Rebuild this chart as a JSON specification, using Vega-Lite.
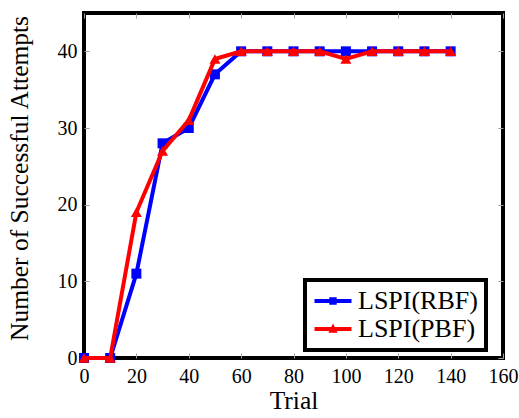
{
  "$schema": "https://vega.github.io/schema/vega-lite/v6.json",
  "width": 419,
  "height": 345,
  "autosize": {"type": "none"},
  "padding": {"left": 84, "top": 13, "right": 16, "bottom": 60},
  "background": "white",
  "config": {
    "font": "Liberation Serif",
    "view": {"stroke": "black", "strokeWidth": 4},
    "axis": {
      "domain": false, "grid": false,
      "tickColor": "#a0a0a0", "tickSize": -5, "tickWidth": 1,
      "labelFont": "Liberation Serif", "labelFontSize": 20, "labelColor": "black",
      "titleFont": "Liberation Serif", "titleFontSize": 25.5, "titleColor": "black", "titleFontWeight": "normal",
      "labelFlush": false, "labelOverlap": false
    }
  },
  "data": {
    "values": [
      {"trial": 0, "value": 0, "method": "LSPI(RBF)"},
      {"trial": 10, "value": 0, "method": "LSPI(RBF)"},
      {"trial": 20, "value": 11, "method": "LSPI(RBF)"},
      {"trial": 30, "value": 28, "method": "LSPI(RBF)"},
      {"trial": 40, "value": 30, "method": "LSPI(RBF)"},
      {"trial": 50, "value": 37, "method": "LSPI(RBF)"},
      {"trial": 60, "value": 40, "method": "LSPI(RBF)"},
      {"trial": 70, "value": 40, "method": "LSPI(RBF)"},
      {"trial": 80, "value": 40, "method": "LSPI(RBF)"},
      {"trial": 90, "value": 40, "method": "LSPI(RBF)"},
      {"trial": 100, "value": 40, "method": "LSPI(RBF)"},
      {"trial": 110, "value": 40, "method": "LSPI(RBF)"},
      {"trial": 120, "value": 40, "method": "LSPI(RBF)"},
      {"trial": 130, "value": 40, "method": "LSPI(RBF)"},
      {"trial": 140, "value": 40, "method": "LSPI(RBF)"},
      {"trial": 0, "value": 0, "method": "LSPI(PBF)"},
      {"trial": 10, "value": 0, "method": "LSPI(PBF)"},
      {"trial": 20, "value": 19, "method": "LSPI(PBF)"},
      {"trial": 30, "value": 27, "method": "LSPI(PBF)"},
      {"trial": 40, "value": 31, "method": "LSPI(PBF)"},
      {"trial": 50, "value": 39, "method": "LSPI(PBF)"},
      {"trial": 60, "value": 40, "method": "LSPI(PBF)"},
      {"trial": 70, "value": 40, "method": "LSPI(PBF)"},
      {"trial": 80, "value": 40, "method": "LSPI(PBF)"},
      {"trial": 90, "value": 40, "method": "LSPI(PBF)"},
      {"trial": 100, "value": 39, "method": "LSPI(PBF)"},
      {"trial": 110, "value": 40, "method": "LSPI(PBF)"},
      {"trial": 120, "value": 40, "method": "LSPI(PBF)"},
      {"trial": 130, "value": 40, "method": "LSPI(PBF)"},
      {"trial": 140, "value": 40, "method": "LSPI(PBF)"}
    ]
  },
  "layer": [
    {
      "transform": [{"filter": "datum.method === 'LSPI(RBF)'"}],
      "mark": {"type": "line", "strokeWidth": 4},
      "encoding": {
        "x": {"field": "trial", "type": "quantitative", "scale": {"domain": [0, 160], "nice": false, "zero": false},
              "axis": {"orient": "bottom", "title": "Trial", "values": [0, 20, 40, 60, 80, 100, 120, 140, 160], "labelPadding": 13, "titlePadding": 2}},
        "y": {"field": "value", "type": "quantitative", "scale": {"domain": [0, 45], "nice": false},
              "axis": {"orient": "left", "title": "Number of Successful Attempts", "values": [0, 10, 20, 30, 40], "labelPadding": 12, "titlePadding": 25, "titleY": 165}},
        "color": {"field": "method", "type": "nominal",
                  "scale": {"domain": ["LSPI(RBF)", "LSPI(PBF)"], "range": ["#0000ff", "#ff0000"]},
                  "legend": {
                    "title": null, "orient": "none", "legendX": 221, "legendY": 267,
                    "strokeColor": "black", "fillColor": "white", "padding": 8,
                    "labelFont": "Liberation Serif", "labelFontSize": 26, "labelColor": "black",
                    "symbolSize": 608, "rowPadding": 2, "labelOffset": 12, "symbolOffset": 7,
                    "encode": {
                      "legend": {"update": {"stroke": {"value": "black"}, "strokeWidth": {"value": 4}}},
                      "symbols": {"update": {
                        "shape": {"signal": "datum.value === 'LSPI(RBF)' ? 'M-1.5,-0.16H1.5V0.16H-1.5Z M-0.3,-0.3H0.3V0.3H-0.3Z' : 'M-1.5,-0.16H1.5V0.16H-1.5Z M0,-0.45L0.38,0.3H-0.38Z'"},
                        "fill": {"signal": "datum.value === 'LSPI(RBF)' ? '#0000ff' : '#ff0000'"},
                        "stroke": {"value": "transparent"},
                        "strokeWidth": {"value": 0},
                        "opacity": {"value": 1}
                      }}
                    }
                  }}
      }
    },
    {
      "transform": [{"filter": "datum.method === 'LSPI(RBF)'"}],
      "mark": {"type": "point", "shape": "square", "filled": true, "size": 100, "opacity": 1},
      "encoding": {
        "x": {"field": "trial", "type": "quantitative",
              "axis": {"orient": "top", "title": null, "labels": false, "values": [0, 20, 40, 60, 80, 100, 120, 140, 160]}},
        "y": {"field": "value", "type": "quantitative",
              "axis": {"orient": "right", "title": null, "labels": false, "values": [0, 10, 20, 30, 40]}},
        "color": {"field": "method", "type": "nominal"}
      }
    },
    {
      "transform": [{"filter": "datum.method === 'LSPI(PBF)'"}],
      "mark": {"type": "line", "strokeWidth": 4},
      "encoding": {
        "x": {"field": "trial", "type": "quantitative", "axis": null},
        "y": {"field": "value", "type": "quantitative", "axis": null},
        "color": {"field": "method", "type": "nominal"}
      }
    },
    {
      "transform": [{"filter": "datum.method === 'LSPI(PBF)'"}],
      "mark": {"type": "point", "shape": "triangle-up", "filled": true, "size": 121, "opacity": 1},
      "encoding": {
        "x": {"field": "trial", "type": "quantitative", "axis": null},
        "y": {"field": "value", "type": "quantitative", "axis": null},
        "color": {"field": "method", "type": "nominal"}
      }
    }
  ],
  "resolve": {"axis": {"x": "independent", "y": "independent"}}
}
